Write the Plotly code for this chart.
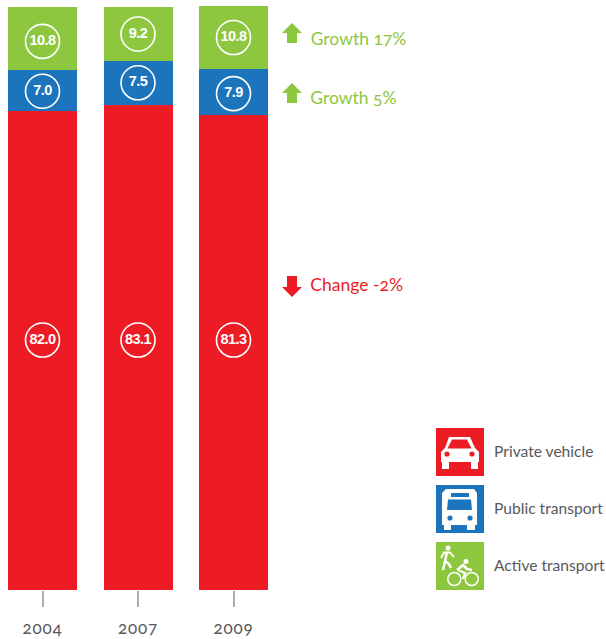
import plotly.graph_objects as go

# Mode share by survey year (percent of trips)
years = ["2004", "2007", "2009"]
private_vehicle = [82.0, 83.1, 81.3]
public_transport = [7.0, 7.5, 7.9]
active_transport = [10.8, 9.2, 10.8]

changes = ["Growth 17%", "Growth 5%", "Change -2%"]
legend_names = ["Private vehicle", "Public transport", "Active transport"]

RED = "#ED1C24"
BLUE = "#1C75BC"
GREEN = "#8DC63F"
GREY = "#58595B"
WIDTH, HEIGHT = 606, 639
TOP, BOTTOM = 6, 590
TEXT_FONT = "Lato"


def px_x(x):
    return x / WIDTH


def px_y(y):
    return (BOTTOM - y) / (BOTTOM - TOP)


def poly(points, ox=0, oy=0, fill="white"):
    d = "M" + " L".join(f"{px_x(ox + x):.5f},{px_y(oy + y):.5f}" for x, y in points) + " Z"
    return dict(type="path", xref="paper", yref="paper", path=d,
                fillcolor=fill, line=dict(width=0), layer="above")


def rect(x0, y0, x1, y1, ox=0, oy=0, fill="white"):
    return poly([(x0, y0), (x1, y0), (x1, y1), (x0, y1)], ox, oy, fill)


def disc(cx, cy, r, ox=0, oy=0, fill="white", stroke=None):
    return dict(type="circle", xref="paper", yref="paper",
                x0=px_x(ox + cx - r), x1=px_x(ox + cx + r),
                y0=px_y(oy + cy + r), y1=px_y(oy + cy - r),
                fillcolor=fill if stroke is None else "rgba(0,0,0,0)",
                line=dict(width=0 if stroke is None else 1.5, color=stroke or fill),
                layer="above")


def stroke(points, ox=0, oy=0, width=2):
    d = "M" + " L".join(f"{px_x(ox + x):.5f},{px_y(oy + y):.5f}" for x, y in points)
    return dict(type="path", xref="paper", yref="paper", path=d,
                line=dict(width=width, color="white"), layer="above")


def arrow(top, up, color):
    head, tail = (top, top + 10) if up else (top + 21, top + 11)
    end = top + 20 if up else top
    return [poly([(292, head), (302, tail), (282, tail)], fill=color),
            rect(287, tail, 297, end, fill=color)]


def car_icon(ox, oy):
    return [
        rect(0, 0, 48, 48, ox, oy, RED),
        poly([(13, 9), (34, 9), (39, 20), (43, 24), (43, 34), (5, 34), (5, 24), (9, 20)], ox, oy),
        rect(6, 33, 13, 41, ox, oy), rect(35, 33, 42, 41, ox, oy),
        poly([(16, 11.5), (31, 11.5), (35.5, 20.5), (11.5, 20.5)], ox, oy, RED),
        disc(11, 26, 2.6, ox, oy, RED), disc(36, 26, 2.6, ox, oy, RED),
    ]


def bus_icon(ox, oy):
    return [
        rect(0, 0, 48, 48, ox, oy, BLUE),
        poly([(10, 4), (38, 4), (41, 8), (41, 40), (6, 40), (6, 8)], ox, oy),
        rect(8, 39, 15, 45, ox, oy), rect(31, 39, 39, 45, ox, oy),
        rect(15, 8, 33, 12, ox, oy, BLUE),
        poly([(12, 14.5), (35, 14.5), (36, 25), (11, 25)], ox, oy, BLUE),
        disc(14, 33, 2.6, ox, oy, BLUE), disc(34, 33, 2.6, ox, oy, BLUE),
    ]


def active_icon(ox, oy):
    return [
        rect(0, 0, 48, 48, ox, oy, GREEN),
        disc(12, 6, 2.5, ox, oy),
        stroke([(11, 10), (9, 19), (7, 28)], ox, oy, 2.5),
        stroke([(9, 19), (13, 22), (15, 26)], ox, oy, 2.5),
        stroke([(5, 16), (8, 10.5), (14, 10.5), (18, 15)], ox, oy, 1.8),
        disc(30, 19.5, 2.5, ox, oy),
        stroke([(21, 28), (27, 23), (31, 27), (36, 28)], ox, oy, 2.5),
        stroke([(22, 28), (29, 31), (27, 37)], ox, oy, 2.2),
        disc(18.3, 37, 6.5, ox, oy, stroke="white"),
        disc(35.7, 37, 6.5, ox, oy, stroke="white"),
    ]


fig = go.Figure()
series = [("Private vehicle", private_vehicle, RED),
          ("Public transport", public_transport, BLUE),
          ("Active transport", active_transport, GREEN)]
for name, values, color in series:
    fig.add_bar(x=years, y=values, name=name, marker=dict(color=color, line=dict(width=0)),
                width=0.7225, hoverinfo="name+y")

# Value badges: centred in the green and blue bands, fixed height in the red band,
# with small per-year offsets so neighbouring circles sit clear of the band edges
active_offset = [-0.45, 0.0, 0.0]
public_offset = [-0.1, 0.0, -0.25]
badge_x, badge_y, badge_text = [], [], []
for i, year in enumerate(years):
    red_top = private_vehicle[i]
    blue_top = red_top + public_transport[i]
    green_top = blue_top + active_transport[i]
    bands = [(42.8, private_vehicle[i]),
             ((red_top + blue_top) / 2 + public_offset[i], public_transport[i]),
             ((blue_top + green_top) / 2 + active_offset[i], active_transport[i])]
    for y, value in bands:
        badge_x.append(year)
        badge_y.append(y)
        badge_text.append(f"{value:.1f}")

fig.add_scatter(x=badge_x, y=badge_y, mode="markers+text", text=badge_text,
                textposition="middle center",
                textfont=dict(family="Liberation Sans", size=14.5, color="white",
                              weight="bold"),
                marker=dict(symbol="circle-open", size=34, color="white", line=dict(width=1.6, color="white")),
                hoverinfo="skip", showlegend=False)

shapes = arrow(23, True, GREEN) + arrow(83, True, GREEN) + arrow(276, False, RED)
shapes += car_icon(436, 428) + bus_icon(436, 485) + active_icon(436, 542)

annotations = []
for text, y, color in zip(changes, [38, 97, 284], [GREEN, GREEN, RED]):
    annotations.append(dict(text=text, x=px_x(308), y=px_y(y), xref="paper", yref="paper",
                            xanchor="left", yanchor="middle", showarrow=False,
                            font=dict(family=TEXT_FONT, size=17.5, color=color)))
for text, y in zip(legend_names, [451, 508, 565]):
    annotations.append(dict(text=text, x=px_x(492), y=px_y(y), xref="paper", yref="paper",
                            xanchor="left", yanchor="middle", showarrow=False,
                            font=dict(family=TEXT_FONT, size=15.6, color=GREY)))

fig.update_layout(
    width=WIDTH, height=HEIGHT, autosize=False,
    margin=dict(l=0, r=0, t=TOP, b=HEIGHT - BOTTOM, pad=0),
    barmode="stack", showlegend=False,
    plot_bgcolor="white", paper_bgcolor="white",
    shapes=shapes, annotations=annotations,
    xaxis=dict(type="category", categoryorder="array", categoryarray=years,
               range=[-0.445, -0.445 + WIDTH / 95.5], showgrid=False, zeroline=False,
               ticks="outside", ticklen=16, tickwidth=1.5, tickcolor="#ADAEB0",
               showline=False, ticklabelstandoff=7,
               tickfont=dict(family=TEXT_FONT, size=17, color=GREY)),
    yaxis=dict(range=[0, 100], visible=False, fixedrange=True),
)

fig.write_html(
    "out.html",
    config=dict(displayModeBar=False),
    post_script="var s=document.createElement('style');"
                "s.textContent='text{font-feature-settings:\"onum\" 1;}"
                ".xtick text{letter-spacing:0.8px;}"
                ".textpoint text{letter-spacing:-0.6px;}';"
                "document.head.appendChild(s);",
)
